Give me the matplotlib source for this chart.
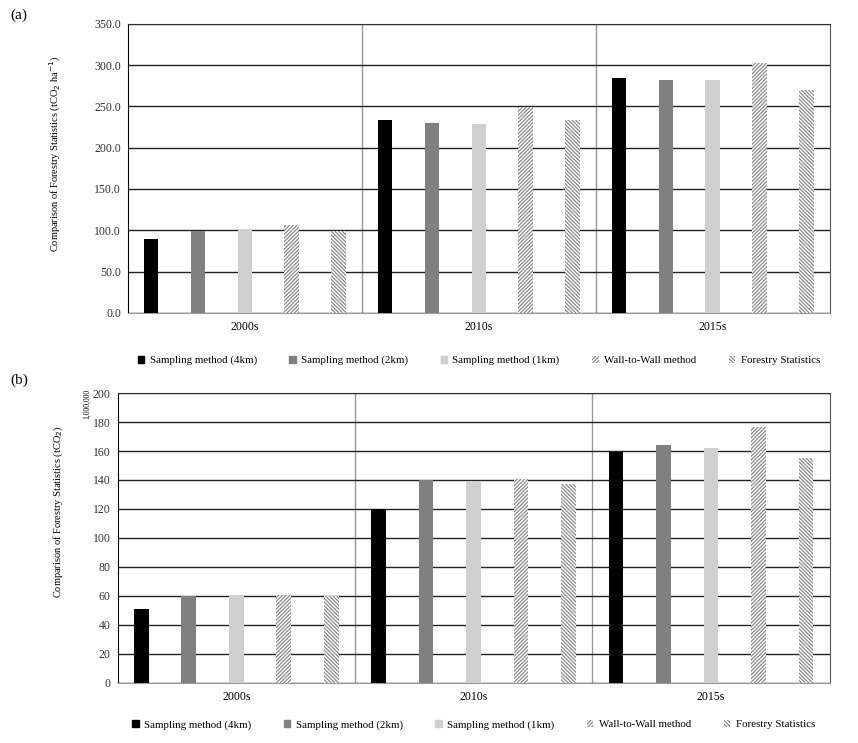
import numpy as np
import matplotlib
matplotlib.use("Agg")
import matplotlib.pyplot as plt
from matplotlib.patches import Patch

plt.rcParams['font.family'] = ['Liberation Serif', 'DejaVu Serif']
plt.rcParams['hatch.linewidth'] = 0.9

# Data
periods = ['2000s', '2010s', '2015s']
methods = ['Sampling method (4km)', 'Sampling method (2km)', 'Sampling method (1km)',
           'Wall-to-Wall method', 'Forestry Statistics']

# (a) tCO2 ha-1
a_4km = [89.5, 234.0, 284.0]
a_2km = [99.5, 230.0, 282.5]
a_1km = [100.5, 228.5, 281.5]
a_wall = [106.5, 249.5, 302.0]
a_stat = [99.5, 233.5, 270.0]

# (b) tCO2 (x 1,000,000)
b_4km = [51.0, 120.0, 159.5]
b_2km = [60.0, 140.0, 164.0]
b_1km = [60.0, 139.0, 162.0]
b_wall = [60.5, 141.0, 176.5]
b_stat = [60.0, 137.0, 155.5]

styles = [dict(color='black'),
          dict(color='#808080'),
          dict(color='#d0cfd0'),
          dict(facecolor='white', edgecolor='#8a8a8a', hatch='/' * 9, linewidth=0),
          dict(facecolor='white', edgecolor='#8a8a8a', hatch='\\' * 9, linewidth=0)]

fig = plt.figure(figsize=(8.58, 7.43), dpi=100)
ax_a = fig.add_axes([0.149, 0.579, 0.818, 0.389])
ax_b = fig.add_axes([0.137, 0.081, 0.830, 0.390])

x = np.arange(len(periods))
width = 0.062


def draw(ax, series, ymax, step, fmt, leg_y):
    for j, vals in enumerate(series):
        ax.bar(x + (j - 2) * 0.2, vals, width, zorder=3, **styles[j])
    ax.set_xlim(-0.5, 2.5)
    ax.set_ylim(0, ymax)
    ticks = np.arange(0, ymax + step / 2, step)
    ax.set_yticks(ticks)
    ax.set_yticklabels([fmt.format(v) for v in ticks])
    ax.yaxis.grid(True, color='#222222', linewidth=1.0, zorder=0)
    for b in [0.5, 1.5]:
        ax.axvline(b, color='#999999', linewidth=1.0, zorder=1)
    ax.set_xticks(x)
    ax.set_xticklabels(periods, fontsize=8.5)
    ax.tick_params(axis='x', length=0, pad=6)
    ax.tick_params(axis='y', length=0, labelsize=8.5, pad=5, colors='#333333')
    ax.spines['left'].set_color('black')
    ax.spines['top'].set_color('#333333')
    ax.spines['right'].set_color('#555555')
    ax.spines['bottom'].set_color('#999999')
    handles = [Patch(**styles[j], label=methods[j]) for j in range(5)]
    ax.legend(handles=handles, loc='upper center', bbox_to_anchor=(0.5, leg_y), ncol=5,
              frameon=False, fontsize=7.8, handlelength=0.6, handleheight=0.6,
              handletextpad=0.5, columnspacing=3.0)


draw(ax_a, [a_4km, a_2km, a_1km, a_wall, a_stat], 350, 50, '{:.1f}', -0.115)
draw(ax_b, [b_4km, b_2km, b_1km, b_wall, b_stat], 200, 20, '{:.0f}', -0.095)

ax_a.set_ylabel('Comparison of Forestry Statistics (tCO$_2$ ha$^{-1}$)', fontsize=7.5)
ax_a.yaxis.set_label_coords(-0.093, 0.55)
ax_b.set_ylabel('Comparison of Forestry Statistics (tCO$_2$)', fontsize=7.5)
ax_b.yaxis.set_label_coords(-0.074, 0.59)
fig.text(0.102, 0.456, '1,000,000', rotation=90, fontsize=5.5, ha='center', va='center')

fig.text(0.012, 0.975, '(a)', fontsize=11)
fig.text(0.012, 0.483, '(b)', fontsize=11)

fig.savefig('out.png', dpi=100)
